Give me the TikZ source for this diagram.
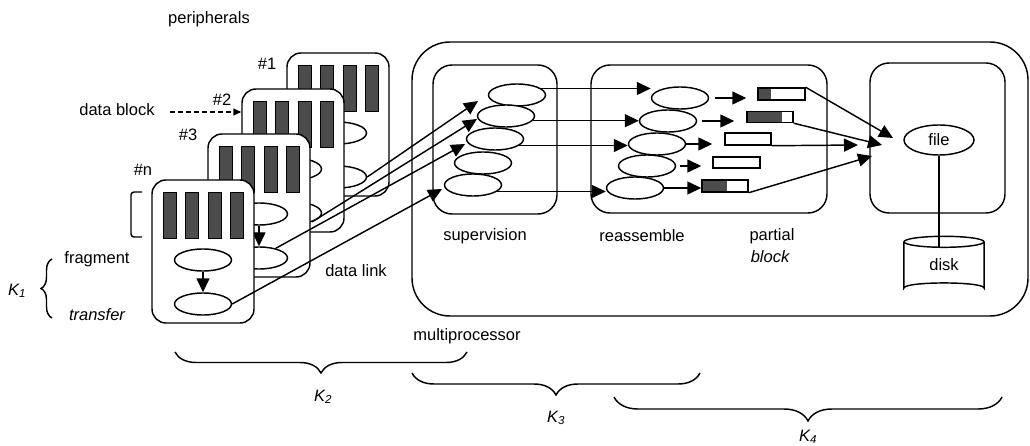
\documentclass[tikz,border=0pt]{standalone}
\usepackage{fontspec}
\setmainfont{Liberation Sans}
\usetikzlibrary{arrows.meta,shapes.geometric,decorations.pathreplacing,calc}
\tikzset{
  lw/.style={line width=1.45pt},
  card/.style={lw,draw,fill=white,rounded corners=14pt,minimum width=102pt,minimum height=143pt,inner sep=0pt},
  bar/.style={draw,line width=0.8pt,fill=black!70,minimum width=13pt,minimum height=46pt,inner sep=0pt},
  ell/.style={lw,draw,fill=white,ellipse,minimum width=57pt,minimum height=22pt,inner sep=0pt},
  arr/.style={lw,-{Triangle[length=14pt,width=13pt]}},
  box/.style={lw,draw,rounded corners=19pt,inner sep=0pt},
  pblock/.style={lw,draw,fill=white,minimum height=12pt,inner sep=0pt},
  lbl/.style={inner sep=0pt,anchor=center},
  kbrace/.style={lw,decorate,decoration={brace,mirror,amplitude=#1}},
}
\newcommand{\pcard}[3]{%
  \begin{scope}[shift={(#2,#3)}]
    \node[card] (c#1) at (51,71.5) {};
    \foreach \bx/\bi in {17.5/1,39.5/2,62.5/3,84.5/4} \node[bar] (b#1\bi) at (\bx,35) {};
    \node[ell] (f#1) at (51,80) {};
    \node[ell] (t#1) at (51,124) {};
    \draw[arr] (f#1) -- (t#1);
  \end{scope}}
\begin{document}
\begin{tikzpicture}[x=1pt,y=-1pt,font=\fontsize{16.5pt}{19pt}\selectfont]
\useasboundingbox (0,0) rectangle (1030,446);
% peripheral cards (back to front)
\pcard{1}{287}{53}
\pcard{2}{242}{89}
\pcard{3}{208}{134}
\pcard{4}{152}{180}
% labels of the cards
\node[lbl] (lper) at (209,19) {peripherals};
\node[lbl] (l1) at (267,64) {\#1};
\node[lbl] (l2) at (222,100) {\#2};
\node[lbl] (l3) at (188,135) {\#3};
\node[lbl] (l4) at (143,170) {\#n};
\node[lbl] (ldb) at (117,110) {data block};
\draw[lw,dashed,dash pattern=on 5pt off 3pt,-{Triangle[length=8pt,width=7pt]}] ([xshift=15pt,yshift=-2pt]ldb.east) -- ([yshift=-2pt]ldb.east -| c2.west);
\draw[lw,rounded corners=3pt] (142,192) -- (131,192) -- (131,237) -- (142,237);
\node[lbl] (lfrag) at (97,259) {fragment};
\node[lbl] (ltrans) at (97,315) {\itshape transfer};
\draw[kbrace=11pt] (52,259) -- (52,318);
\node[lbl] (k1) at (17,291) {\itshape K\textsubscript{1}};
\node[lbl] (ldl) at (356,271) {data link};
% multiprocessor
\node[box,rounded corners=38pt,minimum width=616pt,minimum height=274pt] (mp) at (720,179) {};
\node[box,minimum width=124pt,minimum height=149pt] (sup) at (495,139.5) {};
\node[box,minimum width=236pt,minimum height=148pt] (rea) at (709,139) {};
\node[box,minimum width=135pt,minimum height=150pt] (fbox) at (937.5,138) {};
% supervision ellipses
\node[ell] (s1) at (517,95) {};
\node[ell] (s2) at (506,116) {};
\node[ell] (s3) at (495,139) {};
\node[ell] (s4) at (483,163) {};
\node[ell] (s5) at (473,185) {};
% reassemble ellipses
\node[ell] (r1) at (680,98) {};
\node[ell] (r2) at (668,121) {};
\node[ell] (r3) at (657,144) {};
\node[ell] (r4) at (647,166) {};
\node[ell] (r5) at (635,188) {};
% partial blocks
\node[pblock,minimum width=47pt,path picture={\fill[black!70] (path picture bounding box.north west) rectangle ([xshift=13pt]path picture bounding box.south west);}] (p1) at (781.5,94) {};
\node[pblock,minimum width=46pt,minimum height=11pt,path picture={\fill[black!70] (path picture bounding box.north west) rectangle ([xshift=35pt]path picture bounding box.south west);}] (p2) at (770,117) {};
\node[pblock,minimum width=46pt] (p3) at (748,139) {};
\node[pblock,minimum width=47pt,minimum height=11pt] (p4) at (736.5,162.5) {};
\node[pblock,minimum width=46pt,path picture={\fill[black!70] (path picture bounding box.north west) rectangle ([xshift=25pt]path picture bounding box.south west);}] (p5) at (725,186) {};
% file and disk
\node[lw,draw,ellipse,minimum width=70pt,minimum height=30pt,inner sep=0pt] (file) at (939,140) {file};
\node[inner sep=0pt,minimum width=80pt,minimum height=46pt] (disk) at (944,265) {disk};
\draw[lw] (disk.north west) -- (disk.south west) .. controls ([yshift=7pt]disk.south west) and ([yshift=7pt]disk.south east) .. (disk.south east) -- (disk.north east);
\draw[lw] (disk.north) ellipse [x radius=40pt, y radius=5.5pt];
\draw[lw] (file.south) -- ([yshift=-5.5pt]file.south |- disk.north);
% text labels
\node[lbl] (lsup) at (485,236) {supervision};
\node[lbl] (lrea) at (642,236) {reassemble};
\node[lbl] (lpar) at (772,236) {partial};
\node[lbl] (lblk) at (770,257) {\itshape block};
\node[lbl] (lmp) at (467,336) {multiprocessor};
% data links
\coordinate (a1) at (478,101);
\coordinate (a2) at (477,119);
\coordinate (a3) at (465,144);
\coordinate (a4) at (442,189);
\draw[arr] (t1.east) -- (a1);
\draw[arr] (t2.-25) -- (a2);
\draw[arr] (t3.30) -- (a3);
\draw[arr] (t4.east) -- (a4);
% supervision -> reassemble
\draw[arr] (s1.15) -- (s1.15 -| r1.west);
\draw[arr] (s2.-10) -- (s2.-10 -| r2.west);
\draw[arr] (s3.-15) -- (s3.-15 -| r3.west);
\draw[arr] (s5.-15) -- (s5.-15 -| r5.west);
% reassemble -> partial blocks
\draw[arr,shorten <=6pt,shorten >=11pt] (r1.east) -- (r1.east -| p1.west);
\draw[arr,shorten <=5pt,shorten >=12pt] (r2.east) -- (r2.east -| p2.west);
\draw[arr,shorten >=12pt] (r3.east) -- (r3.east -| p3.west);
\draw[arr,shorten <=4pt,shorten >=11pt] (r4.east) -- (r4.east -| p4.west);
\draw[arr] (r5.east) -- (r5.east -| p5.west);
% partial blocks -> file
\coordinate (q1) at (893,138);
\coordinate (q2) at (882,145);
\coordinate (q3) at (858,145);
\coordinate (q4) at (872,156);
\draw[arr] (p1.north east) -- (q1);
\draw[arr] (p2.south east) -- (q2);
\draw[arr] (p3.south east) -- (q3);
\draw[arr] (p5.south east) -- (q4);
% bottom braces
\draw[kbrace=21pt] (175,352) -- (467,352);
\node[lbl] (k2) at (323,397) {\itshape K\textsubscript{2}};
\draw[kbrace=22pt] (412,373) -- (700,373);
\node[lbl] (k3) at (556,418) {\itshape K\textsubscript{3}};
\draw[kbrace=24pt] (614,397) -- (1002,397);
\node[lbl] (k4) at (808,437) {\itshape K\textsubscript{4}};
\end{tikzpicture}
\end{document}
